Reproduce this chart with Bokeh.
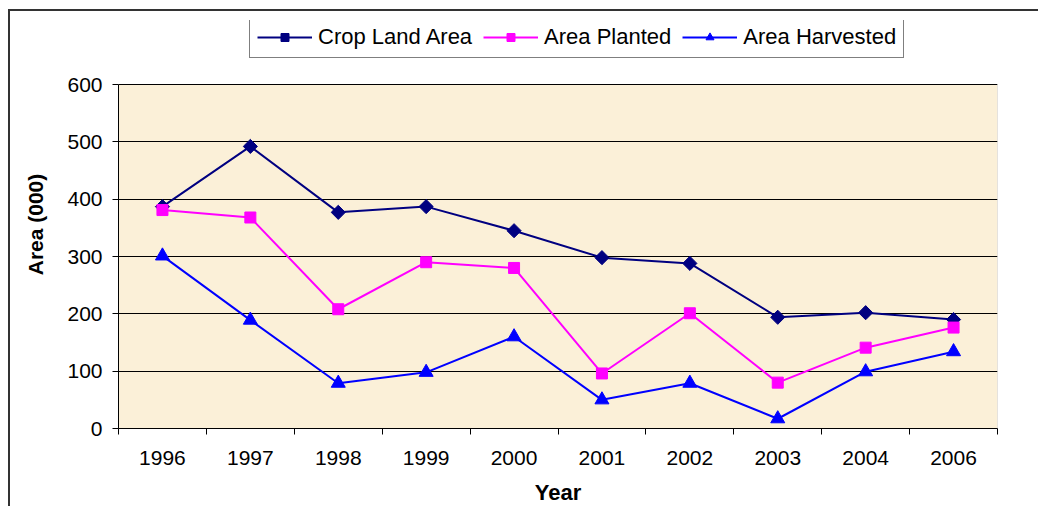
import math
from bokeh.plotting import figure
from bokeh.models import (ColumnDataSource, Range1d, FixedTicker, Legend, LegendItem,
                          BoxAnnotation)
from bokeh.embed import file_html
from bokeh.resources import INLINE

years = ["1996", "1997", "1998", "1999", "2000", "2001", "2002", "2003", "2004", "2006"]
crop_land_area = [387, 492, 377, 387, 345, 298, 288, 194, 202, 190]
area_planted = [381, 368, 208, 290, 280, 96, 201, 80, 141, 176]
area_harvested = [301, 189, 79, 98, 160, 50, 79, 17, 99, 134]
y_ticks = [0, 100, 200, 300, 400, 500, 600]
y_max = 600

xpos = [i + 0.5 for i in range(len(years))]
src = ColumnDataSource(dict(x=xpos, crop=crop_land_area, planted=area_planted,
                            harvested=area_harvested))

FONT = "Liberation Sans"

# frame: plot area 344px tall for 0..600, extra room above it for the legend
frame_px_top, plot_px = 408, 344
p = figure(width=1030, height=497, output_backend="svg", toolbar_location=None,
           x_range=Range1d(0, len(years)),
           y_range=Range1d(0, y_max * frame_px_top / plot_px),
           min_border_left=108, min_border_right=43, min_border_top=9,
           min_border_bottom=80)
p.styles = {"margin-left": "8px", "margin-top": "9px",
            "border-left": "2px solid #333333", "border-top": "2px solid #333333"}
p.background_fill_color = "white"
p.border_fill_color = "white"
p.outline_line_color = None

# plot area background + border
plot_bg = BoxAnnotation(bottom=0, top=y_max, fill_color="#FBF0D8", fill_alpha=1,
                        line_color="#555555", line_width=1, level="image")
p.add_layout(plot_bg)

# grid
p.xgrid.grid_line_color = None
p.ygrid.ticker = FixedTicker(ticks=y_ticks)
p.ygrid.grid_line_color = "black"
p.ygrid.grid_line_width = 1

# y axis
p.yaxis.ticker = FixedTicker(ticks=y_ticks)
p.yaxis.bounds = (0, y_max)
p.yaxis.axis_line_color = "black"
p.yaxis.major_tick_line_color = "black"
p.yaxis.major_tick_out = 6
p.yaxis.major_tick_in = 0
p.yaxis.minor_tick_line_color = None
p.yaxis.major_label_standoff = 10
p.yaxis.major_label_text_font = FONT
p.yaxis.major_label_text_font_size = "21px"
p.yaxis.major_label_text_color = "black"
p.yaxis.axis_label = "Area (000)"
p.yaxis.axis_label_text_font = FONT
p.yaxis.axis_label_text_font_size = "21px"
p.yaxis.axis_label_text_font_style = "bold"
p.yaxis.axis_label_text_color = "black"
p.yaxis.axis_label_standoff = 17

# x axis: labels at category centres, ticks at boundaries
p.xaxis.ticker = FixedTicker(ticks=xpos, minor_ticks=list(range(len(years) + 1)))
p.xaxis.major_label_overrides = {x: y for x, y in zip(xpos, years)}
p.xaxis.major_tick_line_color = None
p.xaxis.major_tick_out = 0
p.xaxis.major_tick_in = 0
p.xaxis.minor_tick_line_color = "black"
p.xaxis.minor_tick_out = 6
p.xaxis.minor_tick_in = 0
p.xaxis.axis_line_color = "black"
p.xaxis.major_label_standoff = 16
p.xaxis.major_label_text_font = FONT
p.xaxis.major_label_text_font_size = "21px"
p.xaxis.major_label_text_color = "black"
p.xaxis.axis_label = "Year"
p.xaxis.axis_label_text_font = FONT
p.xaxis.axis_label_text_font_size = "22px"
p.xaxis.axis_label_text_font_style = "bold"
p.xaxis.axis_label_text_color = "black"
p.xaxis.axis_label_standoff = 12

NAVY = "#000080"
MAG = "#FF00FF"
BLUE = "#0000FF"

l1 = p.line("x", "crop", source=src, line_color=NAVY, line_width=2)
m1 = p.scatter("x", "crop", source=src, marker="square", size=10, angle=math.pi / 4,
               fill_color=NAVY, line_color=NAVY)
l2 = p.line("x", "planted", source=src, line_color=MAG, line_width=2)
m2 = p.scatter("x", "planted", source=src, marker="square", size=11,
               fill_color=MAG, line_color=MAG)
l3 = p.line("x", "harvested", source=src, line_color=BLUE, line_width=2)
m3 = p.scatter("x", "harvested", source=src, marker="triangle", size=14,
               fill_color=BLUE, line_color=BLUE)

legend = Legend(items=[
    LegendItem(label="Crop Land Area", renderers=[l1, m1]),
    LegendItem(label="Area Planted", renderers=[l2, m2]),
    LegendItem(label="Area Harvested", renderers=[l3, m3]),
], orientation="horizontal", location=(131, 370))
legend.glyph_width = 55
legend.glyph_height = 20
legend.label_standoff = 6
legend.spacing = 11
legend.padding = 7
legend.margin = 0
legend.border_line_color = "black"
legend.border_line_width = 1
legend.background_fill_color = "white"
legend.background_fill_alpha = 1
legend.label_text_font = FONT
legend.label_text_font_size = "22px"
legend.label_text_color = "black"
p.add_layout(legend)

open("out.html", "w").write(file_html(p, INLINE))
